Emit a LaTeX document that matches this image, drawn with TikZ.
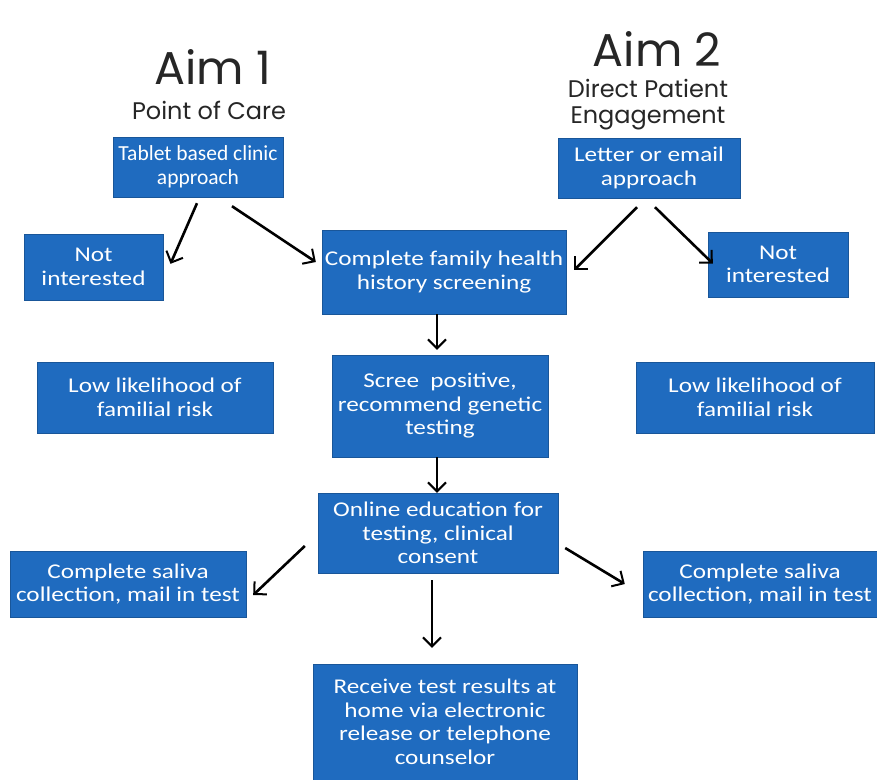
\documentclass[tikz,border=0pt]{standalone}
\usepackage{fontspec}
\setmainfont{Carlito}[FakeStretch=1.2]
\newfontfamily\narrowfont{Carlito}
\newfontfamily\titlefont{Poppins}
\usetikzlibrary{arrows.meta,calc}
\definecolor{boxblue}{HTML}{1F6BBF}
\tikzset{
  box/.style={fill=boxblue, draw=boxblue!80!black, line width=0.4pt, text=white, align=center, font=\fontsize{21}{23.5}\selectfont, inner sep=1pt},
  flow/.style={line width=2.6pt, -{Straight Barb[length=9pt,width=18pt,line width=2pt]}},
  ttl/.style={font=\titlefont, text=black!85, align=center}
}
\begin{document}
\begin{tikzpicture}[x=1pt,y=-1pt]
\useasboundingbox[fill=white] (0,0) rectangle (877,779);
% titles
\node[ttl, font=\titlefont\fontsize{46}{50}\selectfont] (aim1) at (213,67) {Aim 1};
\node[ttl, font=\titlefont\fontsize{24}{26}\selectfont] (poc) at (209,110) {Point of Care};
\node[ttl, font=\titlefont\fontsize{46}{50}\selectfont] (aim2) at (657,49) {Aim 2};
\node[ttl, font=\titlefont\fontsize{24}{26}\selectfont] (dpe) at (648,105) {Direct Patient\\Engagement};
% boxes
\node[box, minimum width=170, minimum height=60, font=\narrowfont\fontsize{21.5}{23.5}\selectfont] (tab) at (198,167) {Tablet based clinic\\approach};
\node[box, minimum width=182, minimum height=60] (let) at (649,168) {Letter or email\\approach};
\node[box, minimum width=139, minimum height=66] (nil) at (93.5,267) {Not\\interested};
\node[box, minimum width=244, minimum height=84] (cfh) at (444,272) {Complete family health\\history screening};
\node[box, minimum width=140, minimum height=65] (nir) at (778,264.5) {Not\\interested};
\node[box, minimum width=236, minimum height=71] (lll) at (155,397.5) {Low likelihood of\\familial risk};
\node[box, minimum width=216, minimum height=102] (scr) at (440,406) {Scree\ \ positive,\\recommend genetic\\testing};
\node[box, minimum width=238, minimum height=71] (llr) at (755,397.5) {Low likelihood of\\familial risk};
\node[box, minimum width=240, minimum height=80] (onl) at (438,533) {Online education for\\testing, clinical\\consent};
\node[box, minimum width=236, minimum height=66] (sal) at (128,584) {Complete saliva\\collection, mail in test};
\node[box, minimum width=234, minimum height=66] (sar) at (760,584) {Complete saliva\\collection, mail in test};
\node[box, minimum width=264, minimum height=116] (rec) at (445,722) {Receive test results at\\home via electronic\\release or telephone\\counselor};
% connectors
\draw[flow] ([xshift=-1pt,yshift=-6pt]tab.south) -- ([xshift=77pt,yshift=-30pt]nil.north);
\draw[flow] ([xshift=34pt,yshift=-9pt]tab.south) -- ([xshift=-6pt,yshift=10pt]cfh.west);
\draw[flow] ([xshift=-12pt,yshift=-9pt]let.south) -- ([xshift=8pt,yshift=2pt]cfh.east);
\draw[flow] ([xshift=6pt,yshift=-9pt]let.south) -- ([xshift=5pt,yshift=1pt]nir.west);
\draw[flow] ([xshift=-7pt]cfh.south) -- ([xshift=-3pt,yshift=5pt]scr.north);
\draw[flow] ([xshift=-3pt]scr.south) -- ([xshift=-1pt,yshift=0pt]onl.north);
\draw[flow] ([xshift=-13pt,yshift=-13pt]onl.west) -- ([xshift=7pt,yshift=-11pt]sal.east);
\draw[flow] ([xshift=7pt,yshift=-15pt]onl.east) -- ([xshift=-18pt,yshift=0pt]sar.west);
\draw[flow] ([xshift=-6pt,yshift=-7pt]onl.south) -- ([xshift=-13pt,yshift=16pt]rec.north);
\end{tikzpicture}
\end{document}
